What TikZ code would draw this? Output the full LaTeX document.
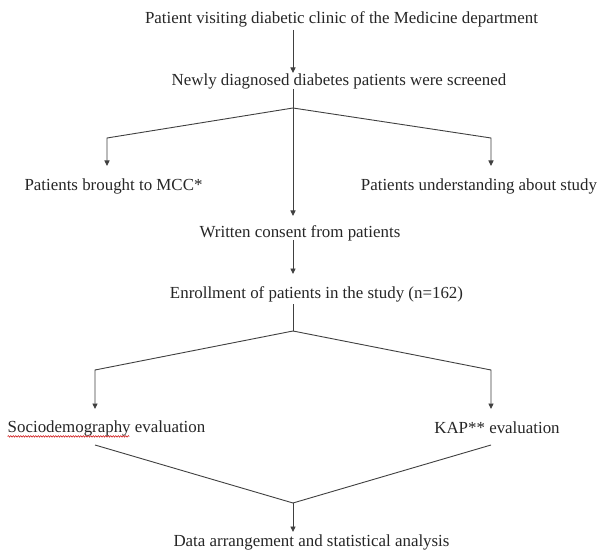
\documentclass[tikz,border=0pt]{standalone}
\usepackage{fontspec}
\setmainfont{Liberation Serif}
\usetikzlibrary{arrows.meta,decorations.pathmorphing,calc}
\begin{document}
\begin{tikzpicture}[x=1pt,y=-1pt,
  lbl/.style={inner sep=0pt,font=\fontsize{16.9}{19}\selectfont,text=black!85},
  ln/.style={draw=black!75,line width=0.9pt},
  arr/.style={ln,-{Triangle[length=5.5pt,width=5pt]}}]
\useasboundingbox[fill=white] (0,0) rectangle (597,556);
\node[lbl] (n1) at (341.5,19) {Patient visiting diabetic clinic of the Medicine department};
\node[lbl] (n2) at (339,81) {Newly diagnosed diabetes patients were screened};
\node[lbl] (n3) at (113.5,186) {Patients brought to MCC*};
\node[lbl] (n4) at (479,186) {Patients understanding about study};
\node[lbl] (n5) at (300,233) {Written consent from patients};
\node[lbl] (n6) at (316.5,294) {Enrollment of patients in the study (n=162)};
\node[lbl] (n7) at (106.5,428) {Sociodemography evaluation};
\node[lbl] (n8) at (497,428) {KAP** evaluation};
\node[lbl] (n9) at (311.5,542) {Data arrangement and statistical analysis};
% connector points
\coordinate (a1) at (293,30);
\coordinate (a1e) at (293,73);
\coordinate (b1s) at (293,89);
\coordinate (b1) at (293,108);
\coordinate (l1) at (107,138);
\coordinate (l1e) at (107,166);
\coordinate (r1) at (491,138);
\coordinate (r1e) at (491,166);
\coordinate (c1e) at (293,216);
\coordinate (c2s) at (293,240);
\coordinate (c2e) at (293,274);
\coordinate (b2s) at (293,304);
\coordinate (b2) at (293,331);
\coordinate (l2) at (95,370);
\coordinate (l2e) at (95,409);
\coordinate (r2) at (491,370);
\coordinate (r2e) at (491,409);
\coordinate (v1) at (95,445);
\coordinate (v2) at (491,445);
\coordinate (vb) at (293,503);
\coordinate (ve) at (293,532);
\draw[arr] (a1) -- (a1e);
\draw[ln] (b1s) -- (b1);
\draw[arr] (b1) -- (l1) -- (l1e);
\draw[arr] (b1) -- (r1) -- (r1e);
\draw[arr] (b1) -- (c1e);
\draw[arr] (c2s) -- (c2e);
\draw[ln] (b2s) -- (b2);
\draw[arr] (b2) -- (l2) -- (l2e);
\draw[arr] (b2) -- (r2) -- (r2e);
\draw[ln] (v1) -- (vb) -- (v2);
\draw[arr] (vb) -- (ve);
\draw[red!80!black,line width=0.45pt,decorate,decoration={snake,amplitude=0.8pt,segment length=2.5pt}]
  ([yshift=-0.5pt]n7.south west) -- ([yshift=-0.5pt]$(n7.south west)!0.615!(n7.south east)$);
\end{tikzpicture}
\end{document}
